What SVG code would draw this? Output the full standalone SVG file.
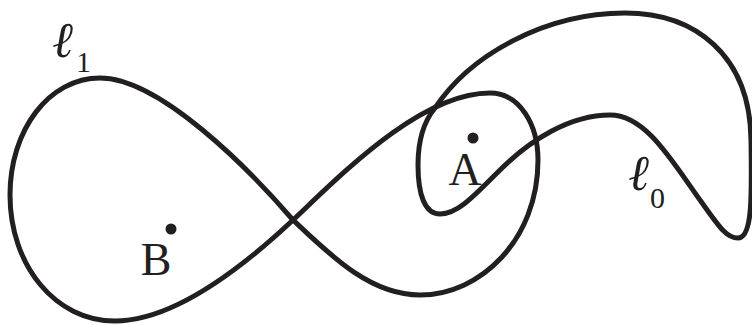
<svg xmlns="http://www.w3.org/2000/svg" width="752" height="325" viewBox="0 0 752 325">
<style>
.curve{fill:none;stroke:#231f20;stroke-width:5;stroke-linejoin:round;stroke-linecap:round}
.dot{fill:#231f20}
.lbl{font-family:"Liberation Serif","DejaVu Serif",serif;fill:#231f20}
.ell{font-family:"Liberation Serif","DejaVu Serif",serif;font-style:italic;font-weight:bold;fill:#231f20}
</style>
<rect width="752" height="325" fill="#ffffff"/>
<g id="curves">
<path id="l1" class="curve" d="M293,220 C250,170 160,78 100,78 C49,78 10,130 10,195 C10,265 55,321 115,321 C175,321 245,265 293,220 C340,176 420,93 490,93 C520,93 538,125 538,160 C538,240 480,295 420,295 C370,295 330,255 293,220 Z"/>
<path id="l0" class="curve" d="M440,214 C425,214 418,195 418,165 C418,140 425,120 435,108 C470,55 545,13 625,13 C695,13 750,55 751,140 C752,200 752,238 738,238 C726,238 718,225 700,200 C670,158 645,115 610,115 C570,115 530,140 500,170 C475,195 458,214 440,214 Z"/>
</g>
<g id="pointA">
<circle class="dot" cx="473" cy="138" r="5.5"/>
<text class="lbl" x="465" y="185" font-size="46" text-anchor="middle">A</text>
</g>
<g id="pointB">
<circle class="dot" cx="171" cy="229" r="5.5"/>
<text class="lbl" x="156" y="275" font-size="46" text-anchor="middle">B</text>
</g>
<g id="label-l1">
<text class="ell" x="53" y="57" font-size="50">ℓ</text>
<text class="lbl" x="76" y="72" font-size="30">1</text>
</g>
<g id="label-l0">
<text class="ell" x="629" y="190" font-size="50">ℓ</text>
<text class="lbl" x="650" y="208" font-size="30">0</text>
</g>
</svg>
